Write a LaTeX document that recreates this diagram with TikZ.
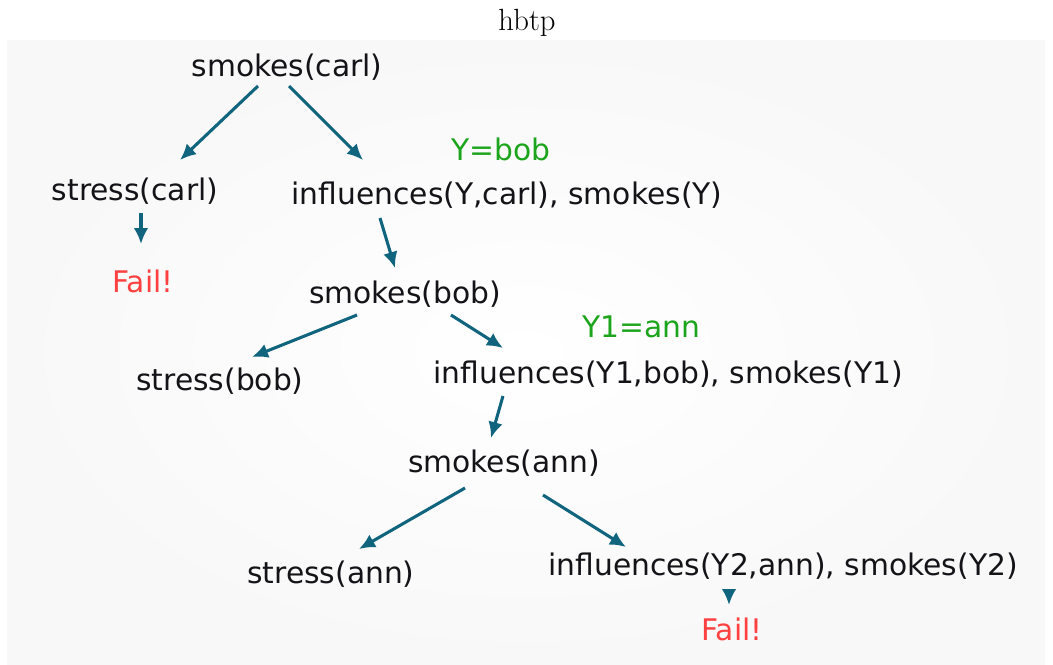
\documentclass[tikz,border=0pt]{standalone}
\usepackage{fontspec}
\newfontfamily\goalfont{DejaVu Sans}
\usetikzlibrary{arrows.meta,calc}
\definecolor{edgeteal}{RGB}{16,100,125}
\definecolor{bindgreen}{RGB}{28,165,28}
\definecolor{failred}{RGB}{255,64,64}
\definecolor{goalink}{RGB}{20,20,24}
\definecolor{panelgray}{RGB}{248,248,248}
\tikzset{
  goal/.style={inner sep=0pt, text=goalink, font=\goalfont\fontsize{22.3}{26}\selectfont},
  binding/.style={goal, text=bindgreen},
  failure/.style={goal, text=failred},
  derive/.style={draw=edgeteal, line width=2.3pt, -{Latex[length=12pt,width=11pt]}},
}
\begin{document}
\begin{tikzpicture}[x=0.75pt,y=-0.75pt]
\useasboundingbox (0,0) rectangle (1053,664);
% panel behind the tree
\shade[inner color=white, outer color=panelgray] (7,40) rectangle (1045,664);
\node[font=\rmfamily\fontsize{23}{27}\selectfont] (title) at (527,23) {hbtp};

% goals
\node[goal] (sc)   at (287,67)  {smokes(carl)};
\node[goal] (stc)  at (135,191) {stress(carl)};
\node[goal] (iy)   at (507,195) {influences(Y,carl), smokes(Y)};
\node[binding] (b1) at (501,149) {Y=bob};
\node[failure] (f1) at (143,281) {Fail!};
\node[goal] (sb)   at (405,294) {smokes(bob)};
\node[binding] (b2) at (641,327) {Y1=ann};
\node[goal] (stb)  at (220,381) {stress(bob)};
\node[goal] (iy1)  at (668,374) {influences(Y1,bob), smokes(Y1)};
\node[goal] (sa)   at (504,463) {smokes(ann)};
\node[goal] (sta)  at (331,574) {stress(ann)};
\node[goal] (iy2)  at (783,566) {influences(Y2,ann), smokes(Y2)};
\node[failure] (f2) at (732,629) {Fail!};

% derivation steps
\draw[derive] ($(sc)+(-29,19)$)   -- ($(stc)+(45,-31)$);
\draw[derive] ($(sc)+(2,19)$)     -- ($(iy)+(-144,-35)$);
\draw[derive] ($(stc)+(6,22)$)    -- ($(f1)+(-2,-37)$);
\draw[derive] ($(iy)+(-127,23)$)  -- ($(sb)+(-10,-26)$);
\draw[derive] ($(sb)+(-48,21)$)   -- ($(stb)+(32,-24)$);
\draw[derive] ($(sb)+(46,21)$)    -- ($(iy1)+(-165,-26)$);
\draw[derive] ($(iy1)+(-165,22)$) -- ($(sa)+(-13,-25)$);
\draw[derive] ($(sa)+(-39,25)$)   -- ($(sta)+(28,-25)$);
\draw[derive] ($(sa)+(39,32)$)    -- ($(iy2)+(-157,-19)$);
\draw[derive] ($(iy2)+(-54,24)$)  -- ($(f2)+(-3,-24)$);
\end{tikzpicture}
\end{document}
